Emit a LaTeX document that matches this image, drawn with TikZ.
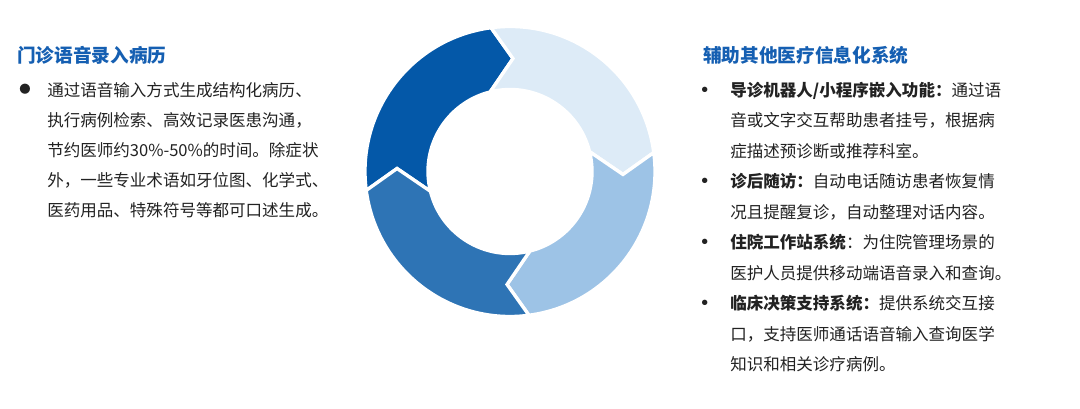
\documentclass[tikz,border=0pt]{standalone}
\usepackage{fontspec}
\setmainfont{Noto Sans CJK SC}

\definecolor{headblue}{HTML}{155FB2}
\definecolor{bodygray}{HTML}{222222}
\definecolor{ringdark}{HTML}{0458A8}
\definecolor{ringmid}{HTML}{2E74B5}
\definecolor{ringlight}{HTML}{9DC3E6}
\definecolor{ringpale}{HTML}{DDEBF7}

\tikzset{
    heading/.style={anchor=base west, inner sep=0pt, text=headblue,
        font=\fontsize{14}{16}\selectfont\bfseries},
    body/.style={anchor=base west, inner sep=0pt, text=bodygray,
        font=\fontsize{12.4}{14}\selectfont},
    dot/.style={inner sep=0pt, text=bodygray},
    ringseg/.style={draw=white, line width=2.5pt, line join=miter},
}

\begin{document}
\begin{tikzpicture}[x=0.75pt, y=0.75pt]
    %\draw[lightgray] (0, 0) grid[step=20] (1080, 409);
    \useasboundingbox[fill=white] (0, 0) rectangle (1080, 409);

    % left column
    \node[heading](lefttitle) at (17, 346.6) {门诊语音录入病历};
    \node[dot, font=\fontsize{8.5}{9}\selectfont](leftdot) at (25, 319.5) {●};
    \node[body](leftline1) at (47, 312.8) {通过语音输入方式生成结构化病历、};
    \node[body](leftline2) at (47, 282.8) {执行病例检索、高效记录医患沟通，};
    \node[body](leftline3) at (47, 252.8) {节约医师约30\%-50\%的时间。除症状};
    \node[body](leftline4) at (47, 222.8) {外，一些专业术语如牙位图、化学式、};
    \node[body](leftline5) at (47, 192.8) {医药用品、特殊符号等都可口述生成。};

    % ring of four arrows, clockwise
    \begin{scope}[shift={(510, 237.5)}]
        \filldraw[ringseg, fill=ringdark] (187.5:145) arc[start angle=187.5, end angle=97.5, radius=145]
            -- (88.5:113) -- (104:82) arc[start angle=104, end angle=194, radius=82] -- (178.5:113) -- cycle;
        \filldraw[ringseg, fill=ringpale] (97.5:145) arc[start angle=97.5, end angle=7.5, radius=145]
            -- (-1.5:113) -- (14:82) arc[start angle=14, end angle=104, radius=82] -- (88.5:113) -- cycle;
        \filldraw[ringseg, fill=ringlight] (7.5:145) arc[start angle=7.5, end angle=-82.5, radius=145]
            -- (-91.5:113) -- (-76:82) arc[start angle=-76, end angle=14, radius=82] -- (-1.5:113) -- cycle;
        \filldraw[ringseg, fill=ringmid] (-82.5:145) arc[start angle=-82.5, end angle=-172.5, radius=145]
            -- (-181.5:113) -- (-166:82) arc[start angle=-166, end angle=-76, radius=82] -- (-91.5:113) -- cycle;
    \end{scope}

    % right column
    \node[heading](righttitle) at (703, 346.6) {辅助其他医疗信息化系统};
    \node[dot, font=\fontsize{19}{21}\selectfont](rightdot1) at (705, 316) {•};
    \node[dot, font=\fontsize{19}{21}\selectfont](rightdot2) at (705, 224.5) {•};
    \node[dot, font=\fontsize{19}{21}\selectfont](rightdot3) at (705, 163.5) {•};
    \node[dot, font=\fontsize{19}{21}\selectfont](rightdot4) at (705, 102.5) {•};
    \node[body](rightline1) at (730, 312.8) {\textbf{导诊机器人/小程序嵌入功能：}通过语};
    \node[body](rightline2) at (730, 282.3) {音或文字交互帮助患者挂号，根据病};
    \node[body](rightline3) at (730, 251.8) {症描述预诊断或推荐科室。};
    \node[body](rightline4) at (730, 221.3) {\textbf{诊后随访：}自动电话随访患者恢复情};
    \node[body](rightline5) at (730, 190.8) {况且提醒复诊，自动整理对话内容。};
    \node[body](rightline6) at (730, 160.3) {\textbf{住院工作站系统}：为住院管理场景的};
    \node[body](rightline7) at (730, 129.8) {医护人员提供移动端语音录入和查询。};
    \node[body](rightline8) at (730, 99.3) {\textbf{临床决策支持系统：}提供系统交互接};
    \node[body](rightline9) at (730, 68.8) {口，支持医师通话语音输入查询医学};
    \node[body](rightline10) at (730, 38.3) {知识和相关诊疗病例。};
\end{tikzpicture}
\end{document}
